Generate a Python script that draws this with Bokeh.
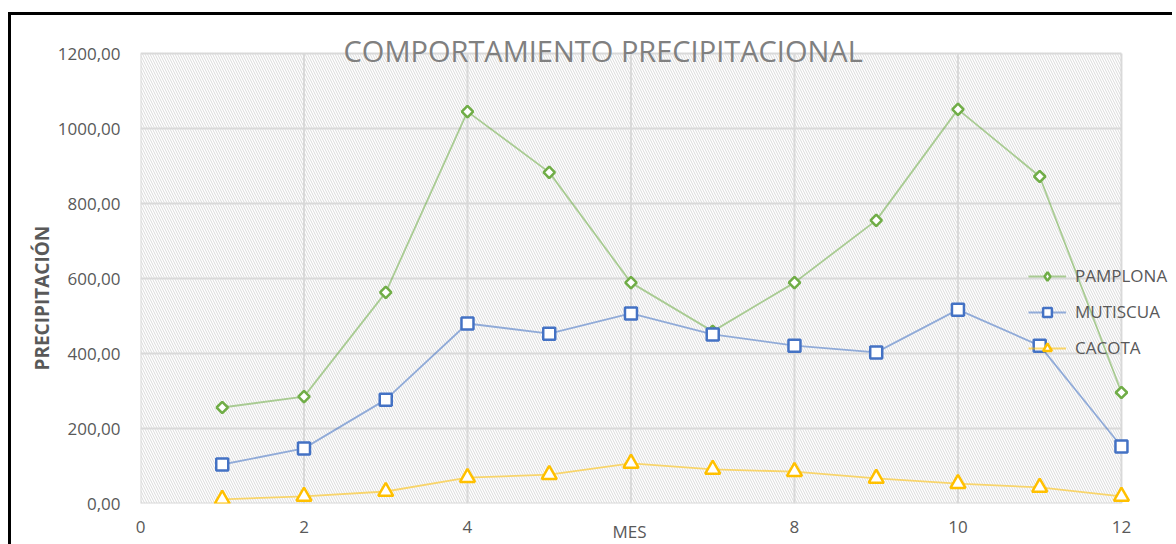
import math
from bokeh.plotting import figure
from bokeh.models import (Legend, LegendItem, BoxAnnotation, FixedTicker,
                          Range1d, Title, Label)
from bokeh.embed import file_html
from bokeh.resources import INLINE

mes = [1, 2, 3, 4, 5, 6, 7, 8, 9, 10, 11, 12]
pamplona = [256, 285, 563, 1045, 883, 589, 459, 589, 755, 1051, 872, 296]
mutiscua = [104, 147, 277, 480, 453, 507, 451, 421, 403, 517, 421, 152]
cacota = [11, 19, 32, 69, 77, 107, 91, 85, 67, 53, 43, 19]

y_ticks = [0, 200, 400, 600, 800, 1000, 1200]
y_labels = ["0,00", "200,00", "400,00", "600,00", "800,00", "1000,00", "1200,00"]
x_ticks = [0, 2, 4, 6, 8, 10, 12]
x_labels = ["0", "2", "4", "6", "8", "10", "12"]

FONT = "Open Sans"
GRAY = "#595959"

# plot area spans x 0..12 and y 0..1200; the ranges are extended so that the
# legend and title (which overlap the plot edge) are not clipped
p = figure(output_backend="svg", toolbar_location=None,
           x_range=Range1d(0, 12.6), y_range=Range1d(0, 1274.67),
           min_border_left=129, min_border_top=10, min_border_bottom=41,
           min_border_right=2, frame_width=1030, frame_height=478,
           styles={"margin-left": "8px", "margin-top": "12px",
                   "border-left": "3px solid black", "border-top": "3px solid black"})

p.outline_line_color = None
p.background_fill_color = "white"
p.border_fill_color = "white"
p.grid.visible = False

hatch = BoxAnnotation(left=0, right=12, bottom=0, top=1200,
                      fill_color="white", fill_alpha=1.0, line_alpha=0,
                      hatch_pattern="\\", hatch_color="#dadada", hatch_scale=5,
                      hatch_weight=1, level="image")
p.add_layout(hatch)

# grid lines, limited to the plot area
p.segment(x0=0, x1=12, y0=y_ticks, y1=y_ticks, line_color="#d9d9d9", line_width=2,
          level="underlay")
p.segment(x0=x_ticks, x1=x_ticks, y0=0, y1=1200, line_color="#d9d9d9", line_width=2,
          level="underlay")

for ax in (p.xaxis, p.yaxis):
    ax.axis_line_color = None
    ax.major_tick_line_color = None
    ax.minor_tick_line_color = None
    ax.major_label_text_color = GRAY
    ax.major_label_text_font = FONT
    ax.major_label_text_font_size = "17px"

p.yaxis.ticker = FixedTicker(ticks=y_ticks)
p.yaxis.major_label_overrides = dict(zip(y_ticks, y_labels))
p.xaxis.ticker = FixedTicker(ticks=x_ticks)
p.xaxis.major_label_overrides = dict(zip(x_ticks, x_labels))
p.xaxis.major_label_standoff = 11
p.yaxis.major_label_standoff = 14

# axis titles (placed as side titles so they can be positioned like the reference)
ytitle = Title(text="PRECIPITACIÓN", align="left", offset=133, standoff=0,
               text_font=FONT, text_font_size="19px", text_font_style="bold",
               text_color=GRAY)
p.add_layout(ytitle, "left")

xtitle = Title(text="MES", align="left", offset=472, standoff=-31,
               vertical_align="top",
               text_font=FONT, text_font_size="17px", text_font_style="normal",
               text_color=GRAY, background_fill_color="white")
p.add_layout(xtitle, "below")

G, B, Y = "#70AD47", "#4472C4", "#FFC000"

lp = p.line(mes, pamplona, line_color=G, line_width=1.8, line_alpha=0.55)
p.scatter(mes, pamplona, marker="square", size=8, angle=math.pi / 4,
          line_color=G, fill_color="white", line_width=2.5)
lm = p.line(mes, mutiscua, line_color=B, line_width=1.8, line_alpha=0.55)
p.scatter(mes, mutiscua, marker="square", size=12, line_color=B,
          fill_color="white", line_width=2.5)
lc = p.line(mes, cacota, line_color=Y, line_width=1.8, line_alpha=0.55)
p.scatter(mes, cacota, marker="triangle", size=15, line_color=Y,
          fill_color="white", line_width=2.5)

# legend-only glyphs (smaller markers, as in the reference legend); their single
# point lies outside the visible range so only the legend shows them
off_x, off_y = [-5], [-5000]
kp = p.scatter(off_x, off_y, marker="diamond", size=11, line_color=G,
               fill_color="white", line_width=2.5)
km = p.scatter(off_x, off_y, marker="square", size=8, line_color=B,
               fill_color="white", line_width=2.5)
kc = p.scatter(off_x, off_y, marker="triangle", size=12, line_color=Y,
               fill_color="white", line_width=2.5)

legend = Legend(items=[LegendItem(label="PAMPLONA", renderers=[lp, kp]),
                       LegendItem(label="MUTISCUA", renderers=[lm, km]),
                       LegendItem(label="CACOTA", renderers=[lc, kc])],
                location=(888, 144), background_fill_alpha=0, border_line_alpha=0,
                label_text_font=FONT, label_text_font_size="17px",
                label_text_color=GRAY, spacing=13, glyph_width=38,
                glyph_height=22, label_height=22, label_standoff=9,
                padding=0, margin=0)
p.add_layout(legend, "center")

title = Label(x=5.66, y=1200, y_offset=3, text="COMPORTAMIENTO PRECIPITACIONAL",
              text_align="center", text_baseline="alphabetic",
              text_font=FONT, text_font_size="29px", text_color="#808080")
p.add_layout(title)

open("out.html", "w").write(file_html(p, INLINE))
